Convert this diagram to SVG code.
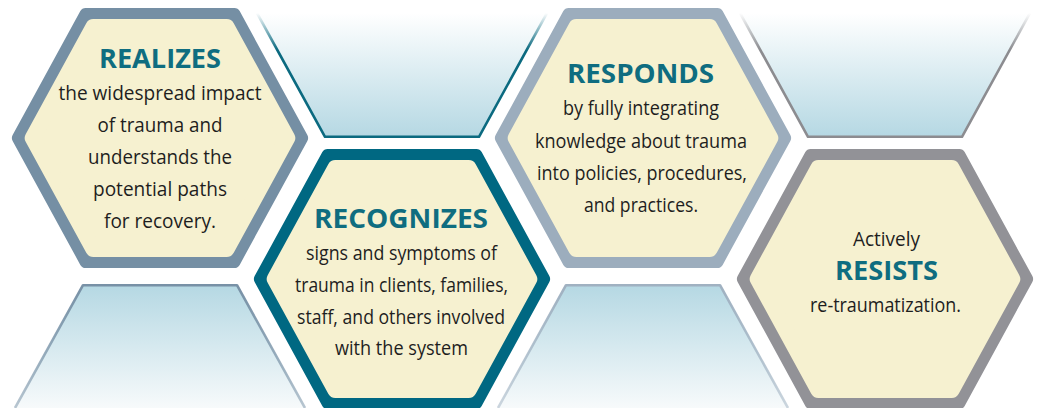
<svg xmlns="http://www.w3.org/2000/svg" xmlns:xlink="http://www.w3.org/1999/xlink" width="1039" height="408" viewBox="0 0 1039 408">
<style>
.title{font-family:"Open Sans",Lato,"Liberation Sans",sans-serif;font-weight:bold;font-size:26.5px;fill:#0f6d80;text-anchor:middle}
.body{font-family:"Open Sans",Lato,"Liberation Sans",sans-serif;font-size:20.5px;fill:#1e1e1e;text-anchor:middle}
.cream{fill:#f6f1d0;stroke:#f6f1d0;stroke-width:16;stroke-linejoin:round}
.bord{stroke-width:12;stroke-linejoin:round}
.b1{fill:#758fa4;stroke:#758fa4}
.b2{fill:#006882;stroke:#006882}
.b3{fill:#9cadbd;stroke:#9cadbd}
.b4{fill:#929297;stroke:#929297}
.bgline{fill:none;stroke-width:2.6;stroke-linejoin:round}
</style>
<defs>
<polygon id="hb" points="-74.4,-124 74.4,-124 142.1,0 74.4,124 -74.4,124 -142.1,0"/>
<polygon id="hc" points="-66.7,-111 66.7,-111 127.3,0 66.7,111 -66.7,111 -127.3,0"/>
<linearGradient id="gTop" x1="0" y1="0" x2="0" y2="1">
<stop offset="0" stop-color="#ffffff"/>
<stop offset="1" stop-color="#b5d8e3"/>
</linearGradient>
<linearGradient id="gBot" x1="0" y1="0" x2="0" y2="1">
<stop offset="0" stop-color="#b5d8e3"/>
<stop offset="1" stop-color="#f7fafb"/>
</linearGradient>
<linearGradient id="sTopTeal" x1="0" y1="0" x2="0" y2="1">
<stop offset="0" stop-color="#0b6a80" stop-opacity="0"/>
<stop offset="0.3" stop-color="#0b6a80" stop-opacity="1"/>
</linearGradient>
<linearGradient id="sTopGray" x1="0" y1="0" x2="0" y2="1">
<stop offset="0" stop-color="#8c8c90" stop-opacity="0"/>
<stop offset="0.3" stop-color="#8c8c90" stop-opacity="1"/>
</linearGradient>
<linearGradient id="sBotSlate" x1="0" y1="0" x2="0" y2="1">
<stop offset="0" stop-color="#7891a6" stop-opacity="1"/>
<stop offset="1" stop-color="#7891a6" stop-opacity="0.5"/>
</linearGradient>
<linearGradient id="sBotLight" x1="0" y1="0" x2="0" y2="1">
<stop offset="0" stop-color="#a0b1c1" stop-opacity="1"/>
<stop offset="1" stop-color="#a0b1c1" stop-opacity="0.5"/>
</linearGradient>
<path id="topFill" d="M-146,5 L-77.5,129 L77.5,129 L146,5 Z"/>
<path id="topLine" d="M-145,5 L-77,128.8 L77,128.8 L145,5"/>
<path id="botFill" d="M-146,-6 L-77.5,-129 L77.5,-129 L146,-6 Z"/>
<path id="botLine" d="M-145,-6 L-77,-128.8 L77,-128.8 L145,-6"/>
</defs>
<rect width="1039" height="408" fill="#ffffff"/>
<g id="background">
<use xlink:href="#topFill" x="402" y="8" fill="url(#gTop)"/>
<use xlink:href="#topLine" x="402" y="8" class="bgline" stroke="url(#sTopTeal)"/>
<use xlink:href="#topFill" x="885" y="8" fill="url(#gTop)"/>
<use xlink:href="#topLine" x="885" y="8" class="bgline" stroke="url(#sTopGray)"/>
<use xlink:href="#botFill" x="160" y="414" fill="url(#gBot)"/>
<use xlink:href="#botLine" x="160" y="414" class="bgline" stroke="url(#sBotSlate)"/>
<use xlink:href="#botFill" x="643" y="414" fill="url(#gBot)"/>
<use xlink:href="#botLine" x="643" y="414" class="bgline" stroke="url(#sBotLight)"/>
</g>
<g id="connectors"/>
<g id="realizes">
<use xlink:href="#hb" x="160" y="138" class="bord b1"/>
<use xlink:href="#hc" x="160" y="138" class="cream"/>
<text class="title" x="160" y="68" textLength="122" lengthAdjust="spacingAndGlyphs">REALIZES</text>
<text class="body" x="160" y="100" textLength="203" lengthAdjust="spacingAndGlyphs">the widespread impact</text>
<text class="body" x="160" y="132" textLength="125" lengthAdjust="spacingAndGlyphs">of trauma and</text>
<text class="body" x="160" y="164" textLength="144" lengthAdjust="spacingAndGlyphs">understands the</text>
<text class="body" x="160" y="196" textLength="134" lengthAdjust="spacingAndGlyphs">potential paths</text>
<text class="body" x="160" y="228" textLength="112" lengthAdjust="spacingAndGlyphs">for recovery.</text>
</g>
<g id="recognizes">
<use xlink:href="#hb" x="402" y="279" class="bord b2"/>
<use xlink:href="#hc" x="402" y="279" class="cream"/>
<text class="title" x="401" y="228" textLength="174" lengthAdjust="spacingAndGlyphs">RECOGNIZES</text>
<text class="body" x="401.5" y="260" textLength="191" lengthAdjust="spacingAndGlyphs">signs and symptoms of</text>
<text class="body" x="401.5" y="292" textLength="213" lengthAdjust="spacingAndGlyphs">trauma in clients, families,</text>
<text class="body" x="401" y="324" textLength="208" lengthAdjust="spacingAndGlyphs">staff, and others involved</text>
<text class="body" x="401.5" y="355" textLength="133" lengthAdjust="spacingAndGlyphs">with the system</text>
</g>
<g id="responds">
<use xlink:href="#hb" x="643" y="138" class="bord b3"/>
<use xlink:href="#hc" x="643" y="138" class="cream"/>
<text class="title" x="640.5" y="83" textLength="147" lengthAdjust="spacingAndGlyphs">RESPONDS</text>
<text class="body" x="641" y="115" textLength="156" lengthAdjust="spacingAndGlyphs">by fully integrating</text>
<text class="body" x="641" y="148" textLength="212" lengthAdjust="spacingAndGlyphs">knowledge about trauma</text>
<text class="body" x="642" y="180" textLength="210" lengthAdjust="spacingAndGlyphs">into policies, procedures,</text>
<text class="body" x="641" y="212" textLength="114" lengthAdjust="spacingAndGlyphs">and practices.</text>
</g>
<g id="resists">
<use xlink:href="#hb" x="885" y="279" class="bord b4"/>
<use xlink:href="#hc" x="885" y="279" class="cream"/>
<text class="body" x="886.5" y="246" textLength="67" lengthAdjust="spacingAndGlyphs">Actively</text>
<text class="title" x="886.5" y="280" textLength="103" lengthAdjust="spacingAndGlyphs">RESISTS</text>
<text class="body" x="885.5" y="312" textLength="151" lengthAdjust="spacingAndGlyphs">re-traumatization.</text>
</g>
</svg>
